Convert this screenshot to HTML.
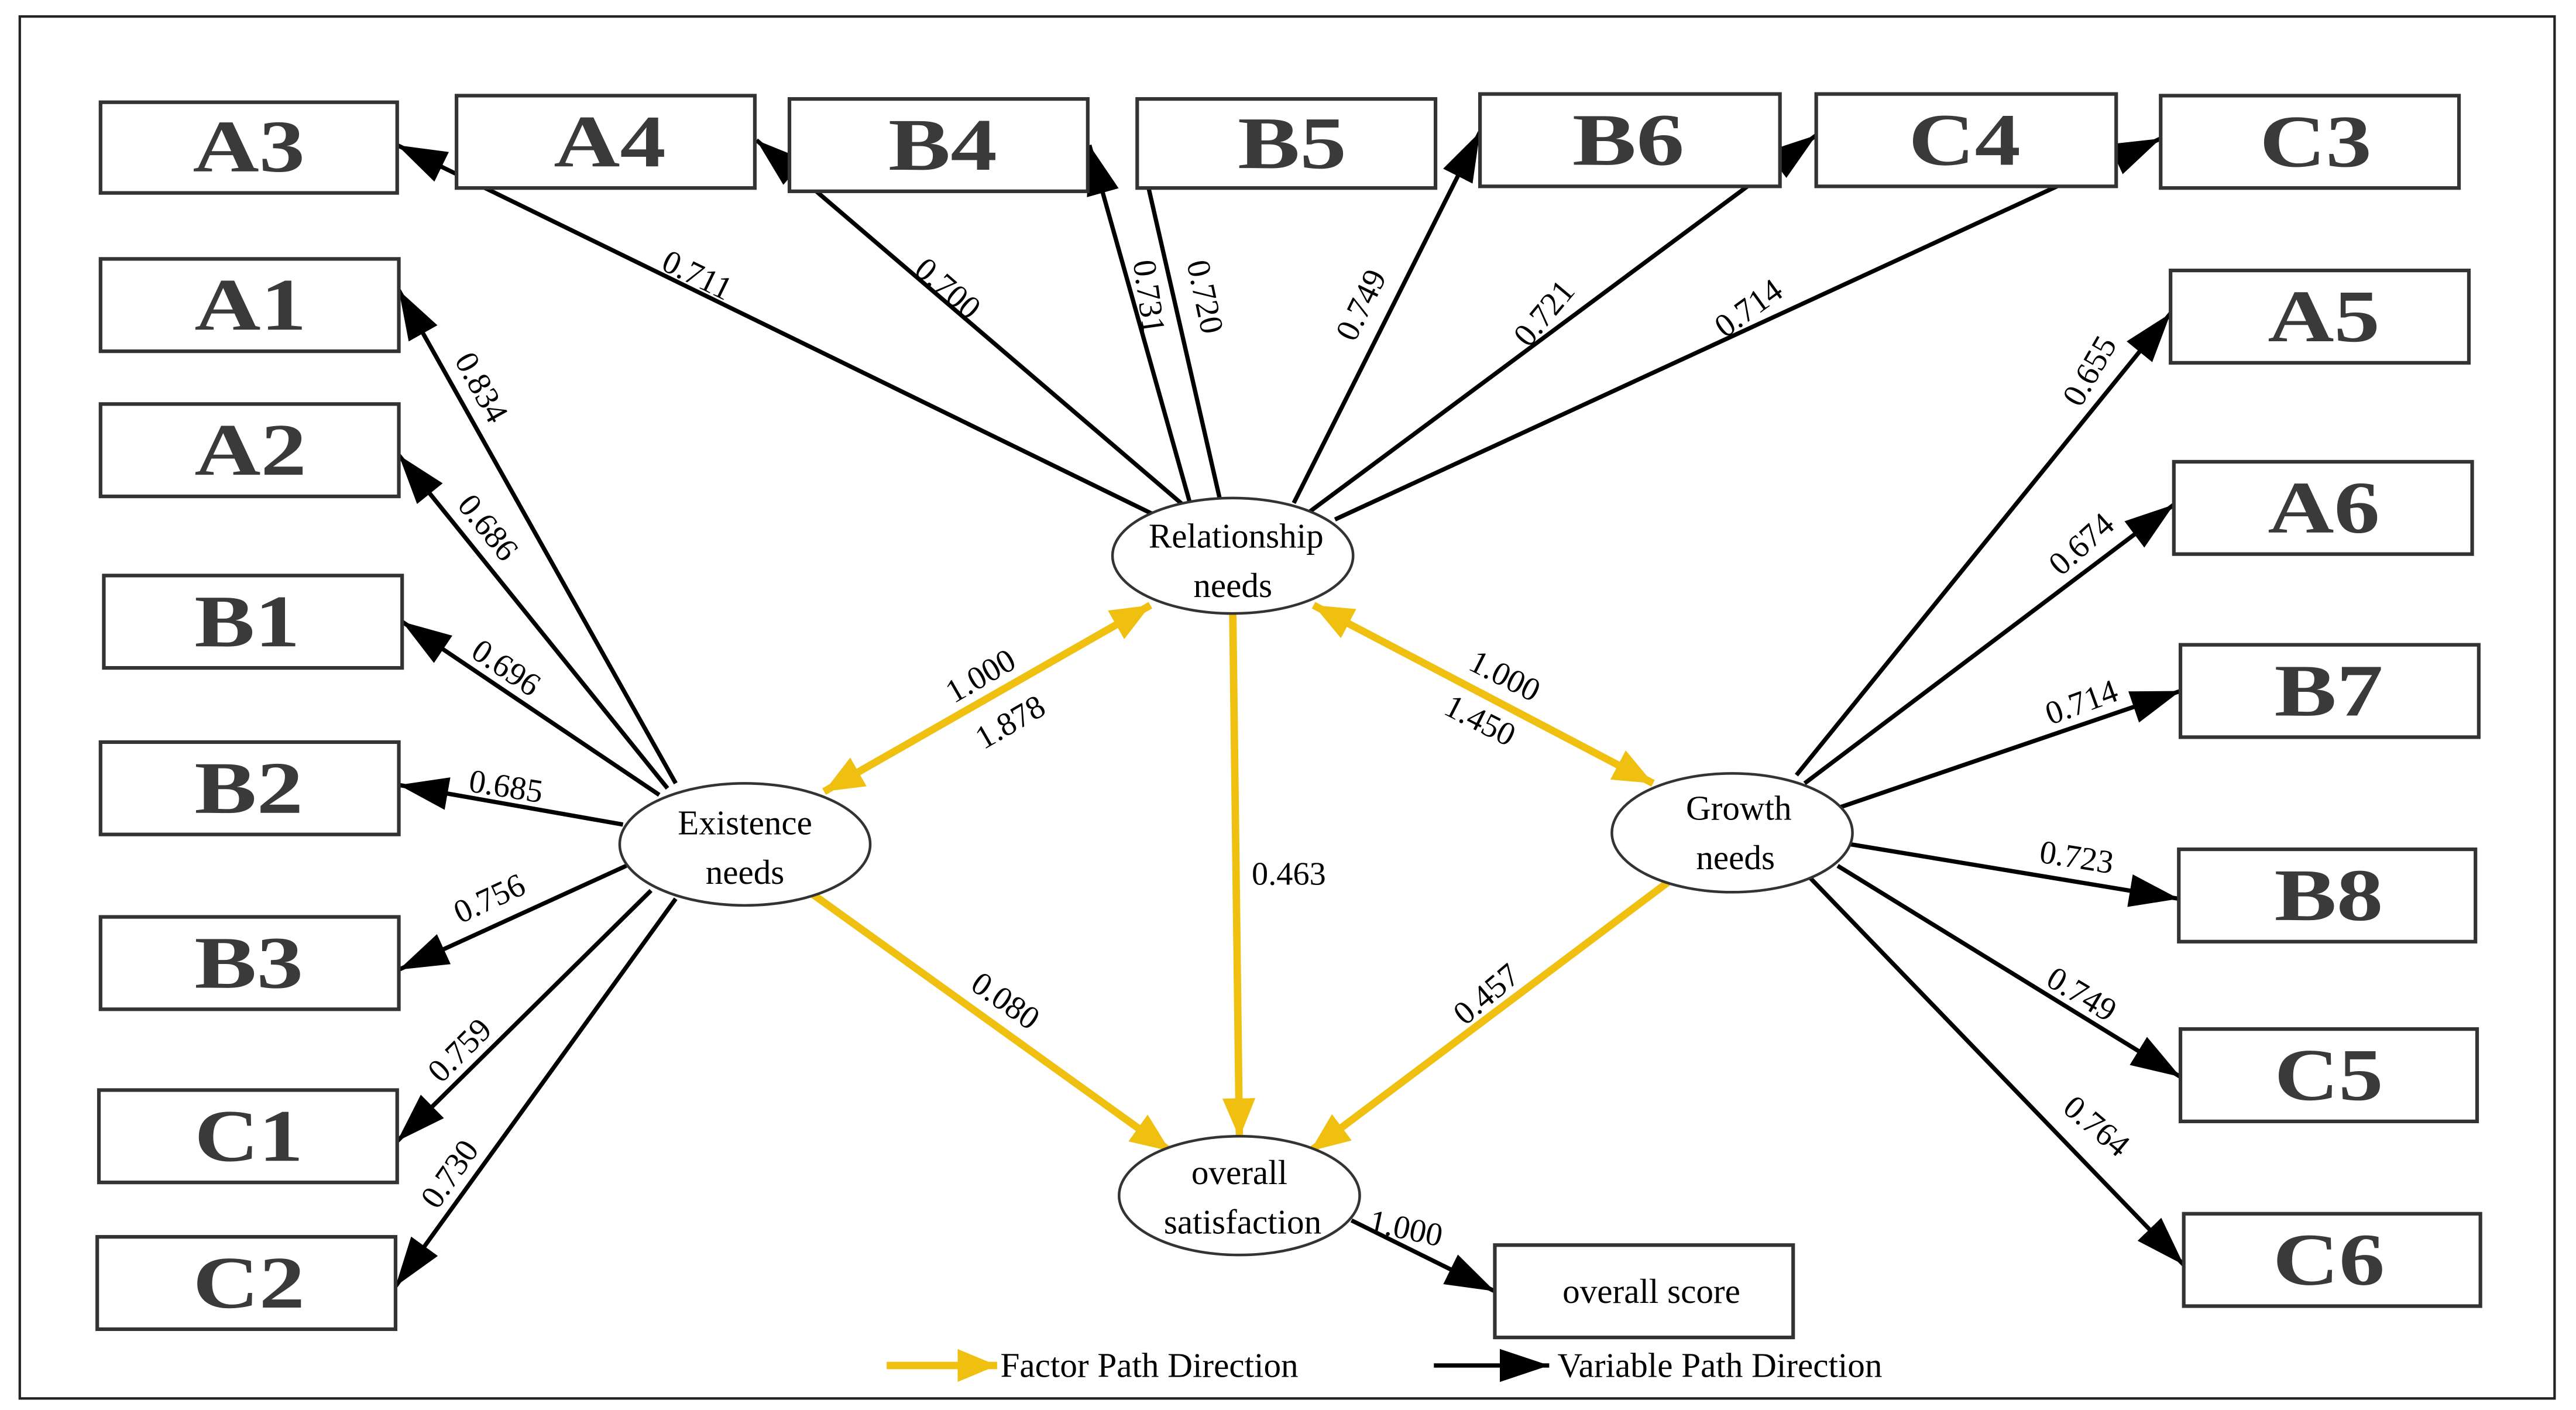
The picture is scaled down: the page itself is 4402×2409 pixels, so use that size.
<!DOCTYPE html>
<html><head><meta charset="utf-8"><style>
html,body{margin:0;padding:0;background:#fff;}
svg{display:block}
.bx{fill:#fff;stroke:#333;stroke-width:2.2}
.bt{font-family:"Liberation Serif",serif;font-weight:bold;font-size:45px;fill:#3a3a3a;text-anchor:middle;dominant-baseline:central}
.lb{font-family:"Liberation Serif",serif;font-size:20px;fill:#000;text-anchor:middle;dominant-baseline:central}
.el{fill:#fff;stroke:#333;stroke-width:1.6}
.et{font-family:"Liberation Serif",serif;font-size:21px;fill:#000;text-anchor:middle}
.k{stroke:#000;stroke-width:2.6;fill:none}
.y{stroke:#f0c010;stroke-width:4.5;fill:none}
</style></head><body>
<svg width="4402" height="2409" viewBox="0 0 1563 855" preserveAspectRatio="none" xmlns="http://www.w3.org/2000/svg">
<defs>
<marker id="ak" markerUnits="userSpaceOnUse" markerWidth="32" markerHeight="24" refX="30" refY="12" orient="auto"><path d="M0,2 L30,12 L0,22 Z" fill="#000"/></marker>
<marker id="ay" markerUnits="userSpaceOnUse" markerWidth="26" markerHeight="22" refX="24" refY="11" orient="auto"><path d="M0,1 L24,11 L0,21 Z" fill="#f0c010"/></marker>
<marker id="ays" markerUnits="userSpaceOnUse" markerWidth="26" markerHeight="22" refX="0" refY="11" orient="auto"><path d="M24,1 L0,11 L24,21 Z" fill="#f0c010"/></marker>
</defs>
<rect x="12" y="10" width="1538" height="838" fill="#fff" stroke="#222" stroke-width="1.5"/>

<g class="k">
<line x1="700" y1="312" x2="241" y2="88" marker-end="url(#ak)"/>
<line x1="720" y1="308" x2="459" y2="85" marker-end="url(#ak)"/>
<line x1="722" y1="305" x2="661" y2="88" marker-end="url(#ak)"/>
<line x1="740" y1="302" x2="696" y2="110"/>
<line x1="785" y1="305" x2="898" y2="80" marker-end="url(#ak)"/>
<line x1="795" y1="310" x2="1102" y2="82" marker-end="url(#ak)"/>
<line x1="810" y1="315" x2="1311" y2="84" marker-end="url(#ak)"/>

<line x1="410" y1="475" x2="242" y2="176" marker-end="url(#ak)"/>
<line x1="405" y1="478" x2="242" y2="276" marker-end="url(#ak)"/>
<line x1="400" y1="482" x2="244" y2="377" marker-end="url(#ak)"/>
<line x1="378" y1="500" x2="242" y2="476" marker-end="url(#ak)"/>
<line x1="380" y1="525" x2="242" y2="588" marker-end="url(#ak)"/>
<line x1="395" y1="540" x2="241" y2="692" marker-end="url(#ak)"/>
<line x1="410" y1="545" x2="240" y2="780" marker-end="url(#ak)"/>

<line x1="1090" y1="470" x2="1317" y2="190" marker-end="url(#ak)"/>
<line x1="1095" y1="475" x2="1319" y2="306" marker-end="url(#ak)"/>
<line x1="1115" y1="490" x2="1323" y2="419" marker-end="url(#ak)"/>
<line x1="1123" y1="512" x2="1322" y2="545" marker-end="url(#ak)"/>
<line x1="1115" y1="525" x2="1323" y2="653" marker-end="url(#ak)"/>
<line x1="1098" y1="532" x2="1325" y2="767" marker-end="url(#ak)"/>

<line x1="820" y1="740" x2="907" y2="783" marker-end="url(#ak)"/>
<line x1="870" y1="828" x2="940" y2="828" marker-end="url(#ak)"/>
</g>

<g>
<rect class="bx" x="61" y="62" width="180" height="55"/><text class="bt" x="151" y="89" textLength="68" lengthAdjust="spacingAndGlyphs">A3</text>
<rect class="bx" x="277" y="58" width="181" height="56"/><text class="bt" x="370" y="86" textLength="68" lengthAdjust="spacingAndGlyphs">A4</text>
<rect class="bx" x="479" y="60" width="181" height="56"/><text class="bt" x="572" y="88" textLength="66" lengthAdjust="spacingAndGlyphs">B4</text>
<rect class="bx" x="690" y="60" width="181" height="54"/><text class="bt" x="784" y="87" textLength="66" lengthAdjust="spacingAndGlyphs">B5</text>
<rect class="bx" x="898" y="57" width="182" height="56"/><text class="bt" x="988" y="85" textLength="68" lengthAdjust="spacingAndGlyphs">B6</text>
<rect class="bx" x="1102" y="57" width="182" height="56"/><text class="bt" x="1192" y="85" textLength="68" lengthAdjust="spacingAndGlyphs">C4</text>
<rect class="bx" x="1311" y="58" width="181" height="56"/><text class="bt" x="1405" y="86" textLength="68" lengthAdjust="spacingAndGlyphs">C3</text>

<rect class="bx" x="61" y="157" width="181" height="56"/><text class="bt" x="152" y="185" textLength="68" lengthAdjust="spacingAndGlyphs">A1</text>
<rect class="bx" x="61" y="245" width="181" height="56"/><text class="bt" x="152" y="273" textLength="68" lengthAdjust="spacingAndGlyphs">A2</text>
<rect class="bx" x="63" y="349" width="181" height="56"/><text class="bt" x="150" y="377" textLength="64" lengthAdjust="spacingAndGlyphs">B1</text>
<rect class="bx" x="61" y="450" width="181" height="56"/><text class="bt" x="151" y="478" textLength="66" lengthAdjust="spacingAndGlyphs">B2</text>
<rect class="bx" x="61" y="556" width="181" height="56"/><text class="bt" x="151" y="584" textLength="66" lengthAdjust="spacingAndGlyphs">B3</text>
<rect class="bx" x="60" y="661" width="181" height="56"/><text class="bt" x="151" y="689" textLength="66" lengthAdjust="spacingAndGlyphs">C1</text>
<rect class="bx" x="59" y="750" width="181" height="56"/><text class="bt" x="151" y="778" textLength="68" lengthAdjust="spacingAndGlyphs">C2</text>

<rect class="bx" x="1317" y="164" width="181" height="56"/><text class="bt" x="1410" y="192" textLength="68" lengthAdjust="spacingAndGlyphs">A5</text>
<rect class="bx" x="1319" y="280" width="181" height="56"/><text class="bt" x="1410" y="308" textLength="68" lengthAdjust="spacingAndGlyphs">A6</text>
<rect class="bx" x="1323" y="391" width="181" height="56"/><text class="bt" x="1413" y="419" textLength="66" lengthAdjust="spacingAndGlyphs">B7</text>
<rect class="bx" x="1322" y="515" width="180" height="56"/><text class="bt" x="1413" y="543" textLength="66" lengthAdjust="spacingAndGlyphs">B8</text>
<rect class="bx" x="1323" y="624" width="180" height="56"/><text class="bt" x="1413" y="652" textLength="66" lengthAdjust="spacingAndGlyphs">C5</text>
<rect class="bx" x="1325" y="736" width="180" height="56"/><text class="bt" x="1413" y="764" textLength="68" lengthAdjust="spacingAndGlyphs">C6</text>

<rect class="bx" x="907" y="755" width="181" height="56"/>
<text class="et" x="1002" y="790">overall score</text>
</g>

<g class="y">
<line x1="500" y1="480" x2="698" y2="367" marker-start="url(#ays)" marker-end="url(#ay)"/>
<line x1="797" y1="367" x2="1003" y2="475" marker-start="url(#ays)" marker-end="url(#ay)"/>
<line x1="748" y1="372" x2="752" y2="690" marker-end="url(#ay)"/>
<line x1="490" y1="540" x2="710" y2="698" marker-end="url(#ay)"/>
<line x1="1012" y1="535" x2="795" y2="698" marker-end="url(#ay)"/>
<line x1="538" y1="828" x2="605" y2="828" marker-end="url(#ay)"/>
</g>

<ellipse class="el" cx="748" cy="337" rx="73" ry="35"/>
<text class="et" x="750" y="332">Relationship</text><text class="et" x="748" y="362">needs</text>
<ellipse class="el" cx="452" cy="512" rx="76" ry="37"/>
<text class="et" x="452" y="506">Existence</text><text class="et" x="452" y="536">needs</text>
<ellipse class="el" cx="1051" cy="505" rx="73" ry="36"/>
<text class="et" x="1055" y="497">Growth</text><text class="et" x="1053" y="527">needs</text>
<ellipse class="el" cx="752" cy="725" rx="73" ry="36"/>
<text class="et" x="752" y="718">overall</text><text class="et" x="754" y="748">satisfaction</text>

<g class="lb">
<text transform="translate(423,167) rotate(26)">0.711</text>
<text transform="translate(575,175) rotate(41)">0.700</text>
<text transform="translate(697,180) rotate(82)">0.731</text>
<text transform="translate(731,180) rotate(78)">0.720</text>
<text transform="translate(826,185) rotate(-64)">0.749</text>
<text transform="translate(937,190) rotate(-50)">0.721</text>
<text transform="translate(1061,187) rotate(-36)">0.714</text>

<text transform="translate(292,235) rotate(61)">0.834</text>
<text transform="translate(296,320) rotate(51)">0.686</text>
<text transform="translate(307,405) rotate(34)">0.696</text>
<text transform="translate(307,477) rotate(9)">0.685</text>
<text transform="translate(297,545) rotate(-25)">0.756</text>
<text transform="translate(279,637) rotate(-45)">0.759</text>
<text transform="translate(273,712) rotate(-55)">0.730</text>

<text transform="translate(1268,225) rotate(-60)">0.655</text>
<text transform="translate(1263,330) rotate(-42)">0.674</text>
<text transform="translate(1263,426) rotate(-20)">0.714</text>
<text transform="translate(1260,520) rotate(9)">0.723</text>
<text transform="translate(1263,603) rotate(31)">0.749</text>
<text transform="translate(1272,683) rotate(40)">0.764</text>

<text transform="translate(595,410) rotate(-30)">1.000</text>
<text transform="translate(613,438) rotate(-30)">1.878</text>
<text transform="translate(913,410) rotate(27)">1.000</text>
<text transform="translate(898,437) rotate(27)">1.450</text>
<text transform="translate(782,530)">0.463</text>
<text transform="translate(610,607) rotate(35)">0.080</text>
<text transform="translate(902,603) rotate(-40)">0.457</text>
<text transform="translate(853,745) rotate(12)">1.000</text>
</g>

<text x="607" y="835" style="font-family:'Liberation Serif',serif;font-size:21px">Factor Path Direction</text>
<text x="945" y="835" style="font-family:'Liberation Serif',serif;font-size:21px">Variable Path Direction</text>
</svg>
</body></html>
